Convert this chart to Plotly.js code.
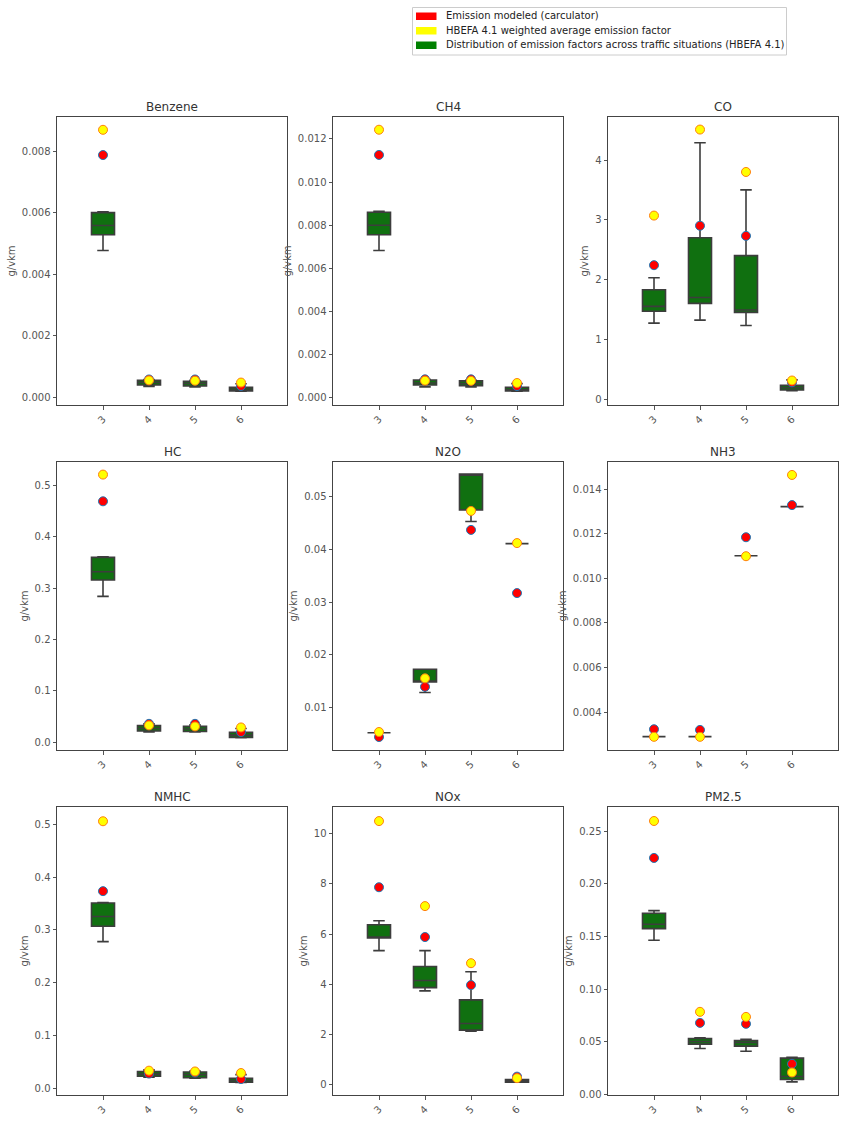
<!DOCTYPE html>
<html>
<head>
<meta charset="utf-8">
<script src="https://cdn.plot.ly/plotly-3.0.1.min.js"></script>
<style>html,body{margin:0;padding:0;background:#fff;}#chart{width:845px;height:1121px;}</style>
</head>
<body>
<div id="chart"></div>
<script>
// ---- data ----
const categories = [3, 4, 5, 6];
const pollutants = ["Benzene", "CH4", "CO", "HC", "N2O", "NH3", "NMHC", "NOx", "PM2.5"];
const unitLabel = "g/vkm";
const legendLabels = [
  "Emission modeled (carculator)",
  "HBEFA 4.1 weighted average emission factor",
  "Distribution of emission factors across traffic situations (HBEFA 4.1)"
];

// box statistics per pollutant (order as in `pollutants`), per category 3,4,5,6
const lowerWhisker = [
  [0.00477, 0.00035, 0.00034, 0.00020],
  [0.00683, 0.00050, 0.00050, 0.00030],
  [1.27, 1.32, 1.23, 0.14],
  [0.284, 0.020, 0.020, 0.009],
  [0.00518, 0.0128, 0.0453, 0.0411],
  [0.00291, 0.00291, 0.01101, 0.01321],
  [0.278, 0.021, 0.019, 0.011],
  [5.34, 3.74, 2.14, 0.11],
  [0.1465, 0.0437, 0.0411, 0.0120]
];
const q1Values = [
  [0.00528, 0.00040, 0.00037, 0.00021],
  [0.00756, 0.00059, 0.00055, 0.00031],
  [1.47, 1.60, 1.45, 0.15],
  [0.316, 0.022, 0.021, 0.0097],
  [0.00518, 0.01482, 0.0475, 0.0411],
  [0.00291, 0.00291, 0.01101, 0.01321],
  [0.307, 0.023, 0.020, 0.0115],
  [5.84, 3.87, 2.18, 0.11],
  [0.1576, 0.0478, 0.0459, 0.0142]
];
const medianValues = [
  [0.00558, 0.00048, 0.00045, 0.00027],
  [0.00800, 0.00068, 0.00065, 0.00038],
  [1.55, 1.70, 1.49, 0.19],
  [0.332, 0.027, 0.026, 0.014],
  [0.00518, 0.0149, 0.0543, 0.0411],
  [0.00291, 0.00291, 0.01101, 0.01321],
  [0.3255, 0.027, 0.026, 0.015],
  [5.86, 4.15, 2.44, 0.16],
  [0.1617, 0.0503, 0.0494, 0.0171]
];
const q3Values = [
  [0.00600, 0.00055, 0.00052, 0.00033],
  [0.00860, 0.00082, 0.00078, 0.00048],
  [1.83, 2.70, 2.40, 0.23],
  [0.360, 0.0325, 0.031, 0.0195],
  [0.00518, 0.01723, 0.0543, 0.0411],
  [0.00291, 0.00291, 0.01101, 0.01321],
  [0.351, 0.032, 0.031, 0.019],
  [6.37, 4.71, 3.38, 0.21],
  [0.1722, 0.0532, 0.0513, 0.0345]
];
const upperWhisker = [
  [0.00603, 0.00058, 0.00055, 0.00044],
  [0.00864, 0.00085, 0.00082, 0.00065],
  [2.03, 4.29, 3.50, 0.32],
  [0.361, 0.036, 0.034, 0.027],
  [0.00518, 0.01723, 0.0543, 0.0411],
  [0.00291, 0.00291, 0.01101, 0.01321],
  [0.352, 0.035, 0.033, 0.026],
  [6.53, 5.34, 4.50, 0.21],
  [0.1747, 0.0538, 0.0525, 0.0354]
];
// modeled emissions (red points)
const modeledValues = [
  [0.00787, 0.00058, 0.00058, 0.00037],
  [0.01126, 0.00085, 0.00085, 0.00054],
  [2.24, 2.90, 2.73, 0.28],
  [0.469, 0.036, 0.036, 0.020],
  [0.00436, 0.0139, 0.0437, 0.0317],
  [0.00324, 0.00321, 0.01184, 0.01328],
  [0.3736, 0.028, 0.030, 0.0177],
  [7.86, 5.88, 3.97, 0.33],
  [0.2247, 0.0680, 0.0671, 0.0291]
];
// HBEFA weighted average (yellow points)
const hbefaValues = [
  [0.00869, 0.00055, 0.00054, 0.00048],
  [0.01243, 0.00079, 0.00078, 0.00068],
  [3.07, 4.51, 3.80, 0.31],
  [0.521, 0.033, 0.031, 0.029],
  [0.00531, 0.0155, 0.0473, 0.0412],
  [0.00290, 0.00290, 0.01099, 0.01463],
  [0.506, 0.0335, 0.032, 0.029],
  [10.49, 7.11, 4.84, 0.27],
  [0.2598, 0.0785, 0.0737, 0.0209]
];
// axis settings
const yRanges = [
  [-0.000249, 0.009106], [-0.00034, 0.01302], [-0.10, 4.72],
  [-0.0149, 0.5455], [0.00189, 0.0566], [0.00231, 0.01521],
  [-0.0126, 0.533], [-0.40, 11.05], [-0.0005, 0.2731]
];
const yTickVals = [
  [0, 0.002, 0.004, 0.006, 0.008],
  [0, 0.002, 0.004, 0.006, 0.008, 0.010, 0.012],
  [0, 1, 2, 3, 4],
  [0, 0.1, 0.2, 0.3, 0.4, 0.5],
  [0.01, 0.02, 0.03, 0.04, 0.05],
  [0.004, 0.006, 0.008, 0.010, 0.012, 0.014],
  [0, 0.1, 0.2, 0.3, 0.4, 0.5],
  [0, 2, 4, 6, 8, 10],
  [0, 0.05, 0.10, 0.15, 0.20, 0.25]
];
const yTickFormats = [".3f", ".3f", "d", ".1f", ".2f", ".3f", ".1f", "d", ".2f"];

// ---- layout geometry ----
const W = 845, H = 1121;
const colPx = [[57, 287], [333, 563], [608, 838]];
const rowPx = [[117, 405], [462, 750], [807, 1095]];

const FONT = "DejaVu Sans, Liberation Sans, sans-serif";
const traces = [];
const layout = {
  width: W, height: H,
  margin: {l: 0, r: 0, t: 0, b: 0},
  paper_bgcolor: "#ffffff",
  plot_bgcolor: "#ffffff",
  showlegend: false,
  font: {family: FONT, size: 10, color: "#555555"},
  annotations: [],
  shapes: []
};

pollutants.forEach((name, i) => {
  const r = Math.floor(i / 3), c = i % 3;
  const sfx = i === 0 ? "" : String(i + 1);
  const xa = "x" + sfx, ya = "y" + sfx;
  const xd = [colPx[c][0] / W, colPx[c][1] / W];
  const yd = [1 - rowPx[r][1] / H, 1 - rowPx[r][0] / H];

  traces.push({
    type: "box", xaxis: xa, yaxis: ya,
    x: categories,
    q1: q1Values[i], median: medianValues[i], q3: q3Values[i],
    lowerfence: lowerWhisker[i], upperfence: upperWhisker[i],
    width: 0.5, whiskerwidth: 0.5,
    fillcolor: "#107010",
    line: {color: "#3d3d3d", width: 1.6},
    hoverinfo: "skip"
  });
  traces.push({
    type: "scatter", mode: "markers", xaxis: xa, yaxis: ya,
    x: categories, y: modeledValues[i],
    marker: {color: "#ff0000", size: 9, line: {color: "#1f77b4", width: 1}},
    hoverinfo: "skip"
  });
  traces.push({
    type: "scatter", mode: "markers", xaxis: xa, yaxis: ya,
    x: categories, y: hbefaValues[i],
    marker: {color: "#ffff00", size: 9, line: {color: "#ff7f0e", width: 1}},
    hoverinfo: "skip"
  });

  layout["xaxis" + sfx] = {
    domain: xd, anchor: ya, range: [2, 7],
    tickmode: "array", tickvals: categories, ticktext: categories.map(String),
    tickangle: -45, ticks: "outside", ticklen: 3.5, tickcolor: "#555555",
    tickfont: {family: FONT, size: 10, color: "#555555"},
    showline: true, mirror: true, linecolor: "#444444", linewidth: 1,
    showgrid: false, zeroline: false, fixedrange: true
  };
  layout["yaxis" + sfx] = {
    domain: yd, anchor: xa, range: yRanges[i],
    tickmode: "array", tickvals: yTickVals[i],
    tickformat: yTickFormats[i],
    ticks: "outside", ticklen: 3.5, tickcolor: "#555555",
    tickfont: {family: FONT, size: 10, color: "#555555"},
    showline: true, mirror: true, linecolor: "#444444", linewidth: 1,
    showgrid: false, zeroline: false, fixedrange: true,
    title: {text: unitLabel, font: {family: FONT, size: 10, color: "#555555"}, standoff: 4}
  };
  layout.annotations.push({
    text: name, xref: "paper", yref: "paper",
    x: (xd[0] + xd[1]) / 2, y: yd[1], yshift: 1,
    xanchor: "center", yanchor: "bottom", showarrow: false,
    font: {family: FONT, size: 12, color: "#333333"}
  });
});

// ---- manual legend ----
const legendColors = ["#ff0000", "#ffff00", "#008000"];
const legendRowsY = [16, 30.5, 45];
layout.shapes.push({
  type: "rect", xref: "paper", yref: "paper",
  x0: 412.5 / W, x1: 786.5 / W, y0: 1 - 55 / H, y1: 1 - 7.5 / H,
  line: {color: "#cccccc", width: 1}, fillcolor: "#ffffff"
});
legendLabels.forEach((lab, k) => {
  const cy = legendRowsY[k];
  layout.shapes.push({
    type: "rect", xref: "paper", yref: "paper",
    x0: 416 / W, x1: 436.5 / W, y0: 1 - (cy + 4) / H, y1: 1 - (cy - 3.5) / H,
    line: {width: 0}, fillcolor: legendColors[k]
  });
  layout.annotations.push({
    text: lab, xref: "paper", yref: "paper",
    x: 444 / W, y: 1 - cy / H, xanchor: "left", yanchor: "middle",
    showarrow: false, font: {family: FONT, size: 10, color: "#222222"}
  });
});

Plotly.newPlot("chart", traces, layout, {staticPlot: true, displayModeBar: false});
</script>
</body>
</html>
